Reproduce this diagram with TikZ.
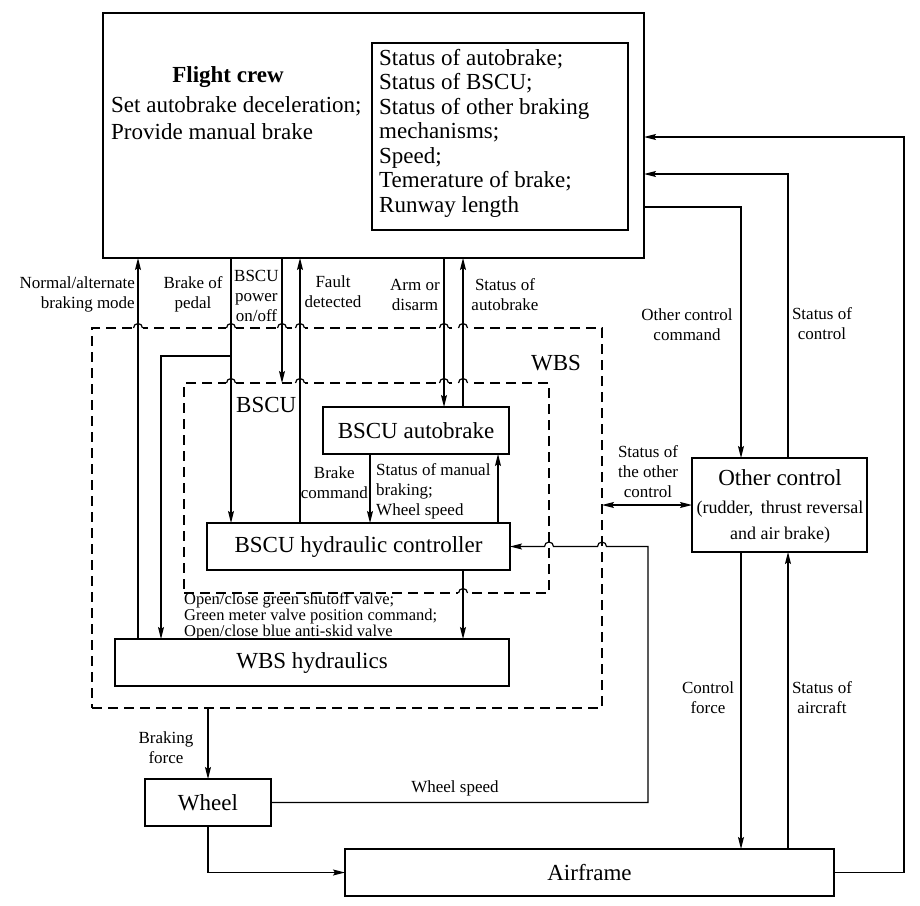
\documentclass[tikz,border=0pt]{standalone}
\usepackage{fontspec}
\setmainfont{Liberation Serif}
\usetikzlibrary{arrows.meta}
\begin{document}
\begin{tikzpicture}[x=1pt,y=-1pt,
  box/.style={draw,line width=2.4pt,inner sep=0pt,outer sep=0pt,font=\fontsize{23}{25}\selectfont},
  zone/.style={draw,dash pattern=on 10pt off 6pt,line width=1.2pt,inner sep=0pt,outer sep=0pt},
  conn/.style={line width=1.2pt},
  tip/.tip={Stealth[length=12pt,width=6pt,inset=2pt]},
  arr/.style={conn,-tip},
  lbl/.style={font=\fontsize{17}{20}\selectfont,inner sep=0pt,align=center},
  big/.style={font=\fontsize{23}{25}\selectfont,inner sep=0pt},
]
\useasboundingbox (0,0) rectangle (920,905);

% ---------- dashed subsystem frames ----------
\node[zone,minimum width=510pt,minimum height=380pt] (wbs) at (347,518) {};
\node[zone,minimum width=365pt,minimum height=210pt] (bscu) at (366.5,488) {};
\node[big,anchor=center] (wbslbl) at (556,363) {WBS};
\node[big,anchor=west] (bsculbl) at (236,405) {BSCU};

% hops of the dashed frames over the signal lines
\foreach \hx/\hy in {138/328,231/328,282/328,300/328,444/328,463/328,
                     231/383,300/383,444/383,463/383,463/593}{
  \fill[white] ({\hx-5},{\hy-2}) rectangle ({\hx+5},{\hy+2});
  \draw[conn] ({\hx-4.5},\hy) arc[start angle=180,end angle=0,radius=4.5pt];
}

% ---------- blocks ----------
\node[box,minimum width=541pt,minimum height=245pt] (fc) at (373.5,135.5) {};
\node[box,minimum width=256pt,minimum height=187pt] (fcinfo) at (500,136.5) {};
\node[box,minimum width=186pt,minimum height=47pt] (ab) at (416,430.5) {BSCU autobrake};
\node[box,minimum width=303pt,minimum height=47pt] (hc) at (358.5,546.5) {BSCU hydraulic controller};
\node[box,minimum width=394pt,minimum height=47pt] (wh) at (312,662.5) {WBS hydraulics};
\node[box,minimum width=175pt,minimum height=94pt] (oc) at (779.5,505) {};
\node[box,minimum width=126pt,minimum height=47pt] (wheel) at (208,802.5) {Wheel};
\node[box,minimum width=489pt,minimum height=47pt] (af) at (589.5,872.5) {Airframe};

% flight crew contents
\node[big,font={\fontsize{23}{25}\selectfont\bfseries}] (fctitle) at (228,77) {Flight crew};
\node[big,anchor=base west] (fcl1) at (111,112) {Set autobrake deceleration;};
\node[big,anchor=base west] (fcl2) at (111,139) {Provide manual brake};
\foreach \t [count=\i] in {Status of autobrake;,Status of BSCU;,Status of other braking,
    mechanisms;,Speed;,Temerature of brake;,Runway length}{
  \node[big,anchor=base west] (info\i) at (379,{65+(\i-1)*24.5}) {\t};
}

% other control contents
\node[big] (octitle) at (780,478) {Other control};
\node[font=\fontsize{18}{26}\selectfont,inner sep=0pt,align=center] (ocsub) at (780,522)
  {(rudder,\, thrust reversal\\and air brake)};

% ---------- reference coordinates for the signal lines ----------
\coordinate (vN) at (138,0);
\coordinate (vP) at (231,0);
\coordinate (vW) at (282,0);
\coordinate (vF) at (300,0);
\coordinate (vA) at (444,0);
\coordinate (vS) at (463,0);
\coordinate (vC) at (370,0);
\coordinate (vM) at (498,0);
\coordinate (vO) at (741,0);
\coordinate (vT) at (788,0);
\coordinate (vWs) at (648,0);
\coordinate (vBF) at (208,0);
\coordinate (br) at (231,356);
\coordinate (brL) at (161,356);
\coordinate (o1) at (741,207);
\coordinate (t1) at (788,174);
\coordinate (r1) at (904,137);
\coordinate (hopA) at (606.5,546.5);
\coordinate (hopB) at (553.5,546.5);

% ---------- signal lines ----------
\draw[arr] (wh.north -| vN) -- (fc.south -| vN);
\draw[arr] (fc.south -| vP) -- (hc.north -| vP);
\draw[arr] (br) -- (brL) -- (wh.north -| brL);
\draw[arr] (fc.south -| vW) -- (bscu.north -| vW);
\draw[arr] (hc.north -| vF) -- (fc.south -| vF);
\draw[arr] (fc.south -| vA) -- (ab.north -| vA);
\draw[arr] (ab.north -| vS) -- (fc.south -| vS);
\draw[arr] (ab.south -| vC) -- (hc.north -| vC);
\draw[arr] (hc.north -| vM) -- (ab.south -| vM);
\draw[arr] (hc.south -| vS) -- (wh.north -| vS);
\draw[arr] (wbs.south -| vBF) -- (wheel.north);
\draw[arr] (wheel.south) |- (af.west);
\draw[arr] (wheel.east) -- (wheel.east -| vWs) -- (hc.east -| vWs) -- (hopA)
  arc[start angle=0,end angle=180,radius=4.5pt] -- (hopB)
  arc[start angle=0,end angle=180,radius=4.5pt] -- (hc.east);
\draw[conn,tip-tip] (wbs.east |- oc.west) -- (oc.west);
\draw[arr] (fc.east |- o1) -- (o1) -- (oc.north -| o1);
\draw[arr] (oc.north -| t1) |- (fc.east |- t1);
\draw[arr] (af.east) -- (af.east -| r1) -- (r1) -- (fc.east |- r1);
\draw[arr] (oc.south -| vO) -- (af.north -| vO);
\draw[arr] (af.north -| vT) -- (oc.south -| vT);

% ---------- signal labels ----------
\node[lbl,align=right,anchor=east] (lNorm) at (135,294) {Normal/alternate\\braking mode};
\node[lbl] (lPedal) at (193,294) {Brake of\\pedal};
\node[lbl,anchor=west] (lPower) at (234,296) {BSCU\\power\\on/off};
\node[lbl] (lFault) at (333,292) {Fault\\detected};
\node[lbl] (lArm) at (415,295) {Arm or\\disarm};
\node[lbl] (lStAb) at (505,295) {Status of\\autobrake};
\node[lbl] (lOcc) at (687,325) {Other control\\command};
\node[lbl] (lStc) at (822,324) {Status of\\control};
\node[lbl] (lSoc) at (648,472) {Status of\\the other\\control};
\node[lbl,anchor=east] (lBcmd) at (368,483) {Brake\\command};
\node[lbl,align=left,anchor=west] (lMan) at (376,491) {Status of manual\\braking;\\Wheel speed};
\node[font=\fontsize{16.5}{14}\selectfont,inner sep=0pt,align=left,anchor=west] (lValve) at (184,616.5)
  {Open/close green shutoff valve;\\Green meter valve position command;\\Open/close blue anti-skid valve};
\node[lbl] (lCf) at (708,698) {Control\\force};
\node[lbl] (lSa) at (822,698) {Status of\\aircraft};
\node[lbl] (lBf) at (166,748) {Braking\\force};
\node[lbl] (lWs) at (455,788) {Wheel speed};
\end{tikzpicture}
\end{document}
